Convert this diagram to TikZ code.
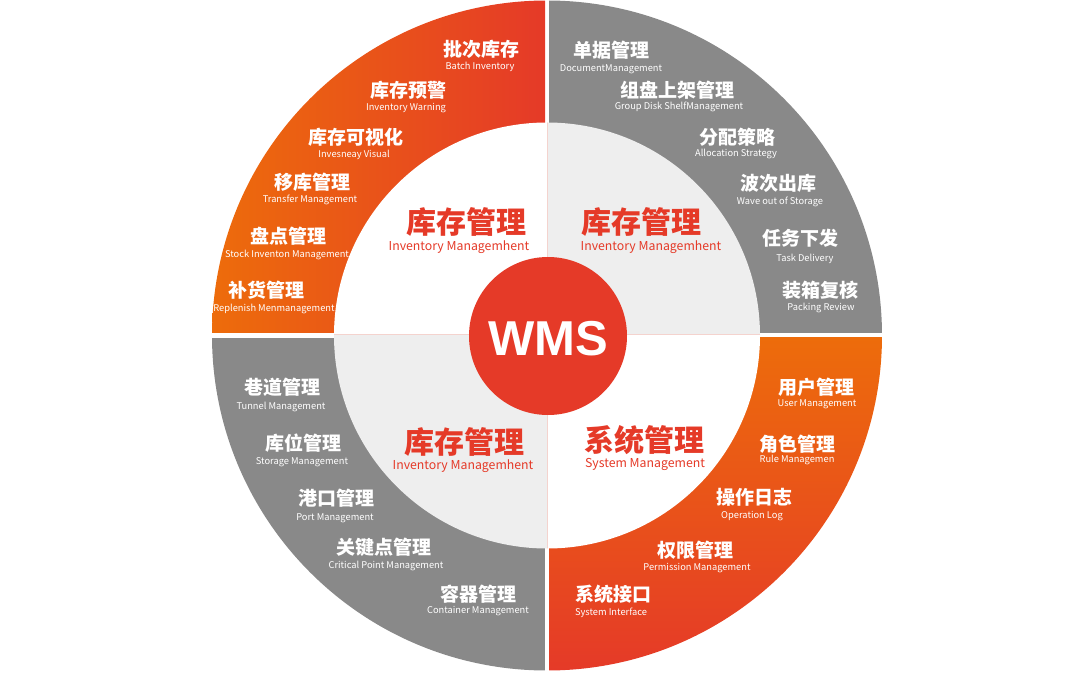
\documentclass[tikz,border=0pt]{standalone}
\usepackage{fontspec}
\setmainfont{Noto Sans CJK SC}
\newfontfamily\wmsfont{Liberation Sans}
\definecolor{wred}{HTML}{E53A28}
\definecolor{worange}{HTML}{ED6C0B}
\definecolor{wmid}{HTML}{E84E1E}
\definecolor{wgray}{HTML}{898989}
\definecolor{wlight}{HTML}{EEEEEE}
\definecolor{wline}{HTML}{F4D3CE}
\tikzset{
  ringcn/.style={anchor=base, text=white, inner sep=0pt, font=\bfseries\fontsize{19}{19}\selectfont},
  ringen/.style={anchor=base, text=white, inner sep=0pt, font=\fontsize{9.3}{9.3}\selectfont},
  innercn/.style={anchor=base, text=wred, inner sep=0pt, font=\bfseries\fontsize{30}{30}\selectfont},
  inneren/.style={anchor=base, text=wred, inner sep=0pt, font=\fontsize{12.3}{12.3}\selectfont},
  core/.style={circle, fill=wred, minimum size=158pt, inner sep=0pt},
  wms/.style={anchor=base, text=white, inner sep=0pt, font=\wmsfont\bfseries\fontsize{49}{49}\selectfont},
  sep/.style={wline, line width=1pt}
}
\newcommand\ringitem[7]{%
  \node[ringcn] (#1c) at (#2,{-#3-7.2}) {#4};
  \node[ringen] (#1e) at (#5,{-#6-3.2}) {#7};}
\begin{document}
\begin{tikzpicture}[x=1pt,y=1pt]
\useasboundingbox (0,0) rectangle (1080,-674);
\coordinate (O) at (547,-335.5);
% ring quadrants
\begin{scope}
  \clip (O) circle (335pt);
  \clip (200,-332.5) rectangle (545,10);
  \shade[left color=worange, middle color=wmid, right color=wred] (212,-333) rectangle (545,0);
\end{scope}
\begin{scope}
  \clip (O) circle (335pt);
  \fill[wgray] (549,-332.5) rectangle (890,10);
\end{scope}
\begin{scope}
  \clip (O) circle (335pt);
  \fill[wgray] (200,-337.5) rectangle (545,-690);
\end{scope}
\begin{scope}
  \clip (O) circle (335pt);
  \clip (549,-337.5) rectangle (890,-690);
  \shade[top color=worange, middle color=wmid, bottom color=wred] (549,-337.5) rectangle (883,-671);
\end{scope}
% inner disc
\begin{scope}
  \clip (O) circle (213pt);
  \fill[white] (547,-335) rectangle (320,-110);
  \fill[wlight] (547,-335) rectangle (780,-110);
  \fill[wlight] (547,-335) rectangle (320,-560);
  \fill[white] (547,-335) rectangle (780,-560);
  \draw[sep] (320,-334.5) -- (780,-334.5);
  \draw[sep] (547,-110) -- (547,-560);
\end{scope}
% center
\node[core] (hub) at (548,-336) {};
\node[wms] (hubtext) at (548,-355) {WMS};
% inner labels
\node[innercn] (tlc) at (466,-233.4) {库存管理};
\node[inneren] (tle) at (459,-251) {Inventory Managemhent};
\node[innercn] (trc) at (641,-233.4) {库存管理};
\node[inneren] (tre) at (651,-251) {Inventory Managemhent};
\node[innercn] (blc) at (464,-453.4) {库存管理};
\node[inneren] (ble) at (463,-469) {Inventory Managemhent};
\node[innercn] (brc) at (644,-451.4) {系统管理};
\node[inneren] (bre) at (645,-467) {System Management};
% top-left items
\ringitem{a1}{481}{49}{批次库存}{480}{66}{Batch Inventory}
\ringitem{a2}{408}{90}{库存预警}{406}{107}{Inventory Warning}
\ringitem{a3}{356}{137}{库存可视化}{354}{154}{Invesneay Visual}
\ringitem{a4}{312}{182}{移库管理}{310}{199}{Transfer Management}
\ringitem{a5}{288}{236}{盘点管理}{287}{254}{Stock Inventon Management}
\ringitem{a6}{266}{290}{补货管理}{274}{308}{Replenish Menmanagement}
% top-right items
\ringitem{b1}{611}{50}{单据管理}{611}{68}{DocumentManagement}
\ringitem{b2}{677}{90}{组盘上架管理}{679}{106}{Group Disk ShelfManagement}
\ringitem{b3}{737}{137}{分配策略}{736}{153}{Allocation Strategy}
\ringitem{b4}{778}{183}{波次出库}{780}{201}{Wave out of Storage}
\ringitem{b5}{800}{238}{任务下发}{805}{258}{Task Delivery}
\ringitem{b6}{820}{290}{装箱复核}{821}{307}{Packing Review}
% bottom-left items
\ringitem{c1}{282}{387}{巷道管理}{281}{406}{Tunnel Management}
\ringitem{c2}{303}{443}{库位管理}{302}{461}{Storage Management}
\ringitem{c3}{336}{498}{港口管理}{335}{517}{Port Management}
\ringitem{c4}{384}{547}{关键点管理}{386}{565}{Critical Point Management}
\ringitem{c5}{478}{594}{容器管理}{478}{610}{Container Management}
% bottom-right items
\ringitem{d1}{816}{387}{用户管理}{817}{403}{User Management}
\ringitem{d2}{797}{444}{角色管理}{797}{459}{Rule Managemen}
\ringitem{d3}{754}{497}{操作日志}{752}{515}{Operation Log}
\ringitem{d4}{695}{550}{权限管理}{697}{567}{Permission Management}
\ringitem{d5}{613}{594}{系统接口}{611}{612}{System Interface}
\end{tikzpicture}
\end{document}
